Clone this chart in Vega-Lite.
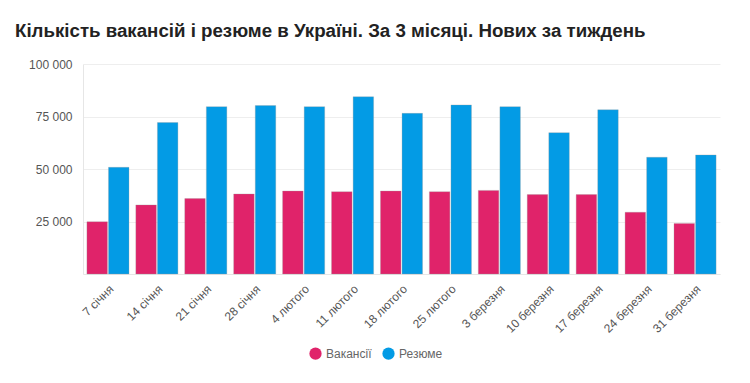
{
  "$schema": "https://vega.github.io/schema/vega-lite/v6.json",
  "width": 637,
  "height": 210,
  "autosize": {"type": "none"},
  "padding": {"left": 83, "top": 64, "right": 30, "bottom": 109},
  "background": "white",
  "title": {
    "text": "Кількість вакансій і резюме в Україні. За 3 місяці. Нових за тиждень",
    "anchor": "start",
    "frame": "group",
    "dx": -68,
    "offset": 17,
    "font": "Liberation Sans",
    "fontSize": 18.7,
    "fontWeight": "bold",
    "color": "#222222"
  },
  "data": {
    "values": [
      {"date": "7 січня", "series": "Вакансії", "value": 24900},
      {"date": "7 січня", "series": "Резюме", "value": 50800},
      {"date": "14 січня", "series": "Вакансії", "value": 32900},
      {"date": "14 січня", "series": "Резюме", "value": 72100},
      {"date": "21 січня", "series": "Вакансії", "value": 35900},
      {"date": "21 січня", "series": "Резюме", "value": 79700},
      {"date": "28 січня", "series": "Вакансії", "value": 38100},
      {"date": "28 січня", "series": "Резюме", "value": 80200},
      {"date": "4 лютого", "series": "Вакансії", "value": 39500},
      {"date": "4 лютого", "series": "Резюме", "value": 79700},
      {"date": "11 лютого", "series": "Вакансії", "value": 39200},
      {"date": "11 лютого", "series": "Резюме", "value": 84400},
      {"date": "18 лютого", "series": "Вакансії", "value": 39500},
      {"date": "18 лютого", "series": "Резюме", "value": 76500},
      {"date": "25 лютого", "series": "Вакансії", "value": 39200},
      {"date": "25 лютого", "series": "Резюме", "value": 80500},
      {"date": "3 березня", "series": "Вакансії", "value": 39800},
      {"date": "3 березня", "series": "Резюме", "value": 79700},
      {"date": "10 березня", "series": "Вакансії", "value": 37800},
      {"date": "10 березня", "series": "Резюме", "value": 67300},
      {"date": "17 березня", "series": "Вакансії", "value": 37800},
      {"date": "17 березня", "series": "Резюме", "value": 78200},
      {"date": "24 березня", "series": "Вакансії", "value": 29400},
      {"date": "24 березня", "series": "Резюме", "value": 55600},
      {"date": "31 березня", "series": "Вакансії", "value": 24100},
      {"date": "31 березня", "series": "Резюме", "value": 56700}
    ]
  },
  "mark": {"type": "bar", "stroke": "#9a9a9a", "strokeWidth": 0.5, "strokeOpacity": 0.6},
  "encoding": {
    "x": {
      "field": "date",
      "type": "nominal",
      "sort": null,
      "scale": {"paddingInner": 0.14, "paddingOuter": 0.08},
      "axis": {
        "title": null,
        "labelAngle": -45,
        "labelFont": "Liberation Sans",
        "labelFontSize": 12,
        "labelColor": "#555555",
        "ticks": false,
        "labelPadding": 9,
        "domainColor": "#e6e6e6",
        "grid": false
      }
    },
    "xOffset": {
      "field": "series",
      "type": "nominal",
      "scale": {"paddingInner": 0.05}
    },
    "y": {
      "field": "value",
      "type": "quantitative",
      "scale": {"domain": [0, 100000]},
      "axis": {
        "title": null,
        "values": [0, 25000, 50000, 75000, 100000],
        "labelExpr": "datum.value == 0 ? '' : replace(format(datum.value, ','), ',', ' ')",
        "labelFont": "Liberation Sans",
        "labelFontSize": 12,
        "labelColor": "#555555",
        "ticks": false,
        "labelPadding": 11,
        "domain": true,
        "domainColor": "#e6e6e6",
        "gridColor": "#eeeeee"
      }
    },
    "color": {
      "field": "series",
      "type": "nominal",
      "scale": {"domain": ["Вакансії", "Резюме"], "range": ["#e0236a", "#039be5"]},
      "legend": {
        "title": null,
        "orient": "none",
        "legendX": 226,
        "legendY": 283,
        "direction": "horizontal",
        "symbolType": "circle",
        "symbolSize": 150,
        "symbolStrokeWidth": 0,
        "labelFont": "Liberation Sans",
        "labelFontSize": 12,
        "labelColor": "#666666",
        "columnPadding": 10
      }
    }
  },
  "config": {
    "view": {"stroke": null},
    "axis": {"gridColor": "#eeeeee"}
  }
}
